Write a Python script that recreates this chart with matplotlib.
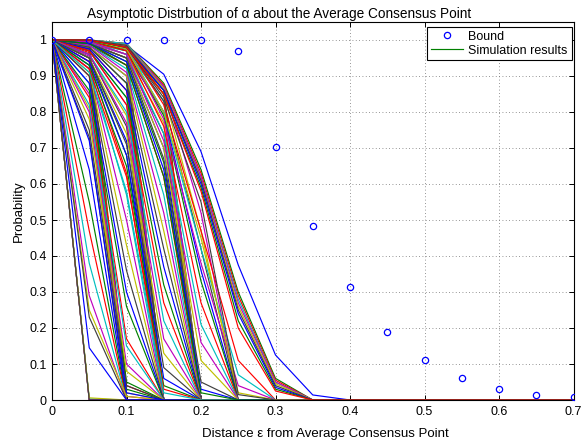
import matplotlib
matplotlib.use("Agg")
import matplotlib.pyplot as plt
from matplotlib.ticker import FuncFormatter

plt.rcParams['font.family'] = ['Liberation Sans', 'DejaVu Sans']

# x grid (distance epsilon)
eps = [0.0, 0.05, 0.1, 0.15, 0.2, 0.25, 0.3, 0.35, 0.4, 0.45, 0.5, 0.55, 0.6, 0.65, 0.7]

# theoretical bound
bound = [1.0, 1.0, 1.0, 1.0, 1.0, 0.969, 0.704, 0.483, 0.314, 0.19, 0.11, 0.06, 0.031, 0.015, 0.007]

# simulation curves (values at eps grid; omitted trailing values are 0)
sim_a = [[1, 0], [1, 0], [1, 0.003], [1, 0], [1, 0.006], [1, 0]]
sim_b = [[1, 0.995], [1, 0.99], [1, 0.99, 0.04], [1, 0.985], [1, 0.98], [1, 0.98, 0.02],
         [1, 0.975], [1, 0.97], [1, 0.97, 0.03], [1, 0.965], [1, 0.96], [1, 0.955, 0.01],
         [1, 0.95], [1, 0.94], [1, 0.93], [1, 0.92, 0.05], [1, 0.90], [1, 0.88], [1, 0.85],
         [1, 0.81], [1, 0.73], [1, 0.64], [1, 0.55], [1, 0.47], [1, 0.38], [1, 0.29],
         [1, 0.25, 0.01], [1, 0.23], [1, 0.145]]
sim_c = [[1, 0.995, 0.98], [1, 0.995, 0.975], [1, 0.99, 0.97], [1, 0.99, 0.96], [1, 0.99, 0.95],
         [1, 0.985, 0.93], [1, 0.98, 0.90], [1, 0.98, 0.88], [1, 0.975, 0.86], [1, 0.97, 0.84],
         [1, 0.97, 0.82], [1, 0.96, 0.79], [1, 0.96, 0.76], [1, 0.95, 0.72], [1, 0.95, 0.68],
         [1, 0.94, 0.63], [1, 0.93, 0.57], [1, 0.92, 0.50], [1, 0.91, 0.43], [1, 0.90, 0.36],
         [1, 0.88, 0.30], [1, 0.86, 0.26], [1, 0.84, 0.17], [1, 0.82, 0.15], [1, 0.80, 0.10],
         [1, 0.78, 0.08], [1, 0.75, 0.04], [1, 0.72, 0.02]]
sim_d = [[1, 1, 0.98, 0.86], [1, 1, 0.975, 0.85], [1, 0.995, 0.97, 0.83], [1, 0.995, 0.96, 0.80],
         [1, 0.995, 0.96, 0.77], [1, 0.99, 0.95, 0.74], [1, 0.99, 0.95, 0.70], [1, 0.99, 0.94, 0.66],
         [1, 0.99, 0.93, 0.62], [1, 0.985, 0.92, 0.57], [1, 0.985, 0.91, 0.52], [1, 0.98, 0.90, 0.47],
         [1, 0.98, 0.88, 0.42], [1, 0.975, 0.86, 0.37], [1, 0.97, 0.84, 0.32], [1, 0.97, 0.82, 0.27],
         [1, 0.96, 0.80, 0.22], [1, 0.96, 0.77, 0.17], [1, 0.95, 0.74, 0.13], [1, 0.95, 0.71, 0.09],
         [1, 0.94, 0.68, 0.06], [1, 0.93, 0.65, 0.04], [1, 0.92, 0.62, 0.03], [1, 0.91, 0.58, 0.02]]
sim_e = [[1, 1, 0.985, 0.87, 0.52], [1, 1, 0.98, 0.85, 0.47], [1, 1, 0.98, 0.83, 0.42],
         [1, 1, 0.975, 0.80, 0.36], [1, 1, 0.97, 0.79, 0.33], [1, 0.995, 0.97, 0.76, 0.27],
         [1, 0.995, 0.96, 0.74, 0.21], [1, 0.995, 0.96, 0.72, 0.16], [1, 0.99, 0.95, 0.70, 0.11],
         [1, 0.99, 0.95, 0.67, 0.05], [1, 0.99, 0.94, 0.64, 0.03], [1, 0.99, 0.93, 0.62, 0.02]]
sim_f = [[1, 1, 0.985, 0.82, 0.47, 0.11], [1, 1, 0.98, 0.80, 0.42, 0.07], [1, 1, 0.98, 0.78, 0.38, 0.04],
         [1, 1, 0.975, 0.80, 0.45, 0.02], [1, 1, 0.98, 0.84, 0.55, 0.015]]
sim_h = [[1, 1, 0.985, 0.905, 0.69, 0.375, 0.125, 0.014]]
sim_g = [[1, 1, 0.99, 0.88, 0.64, 0.30, 0.06], [1, 1, 0.99, 0.875, 0.63, 0.29, 0.055],
         [1, 1, 0.99, 0.87, 0.62, 0.28, 0.05], [1, 1, 0.985, 0.87, 0.62, 0.27, 0.05],
         [1, 1, 0.985, 0.865, 0.61, 0.26, 0.045], [1, 1, 0.985, 0.86, 0.61, 0.25, 0.04],
         [1, 1, 0.98, 0.86, 0.60, 0.24, 0.035], [1, 1, 0.98, 0.85, 0.59, 0.22, 0.03],
         [1, 1, 0.98, 0.85, 0.58, 0.20, 0.025]]

sims = sim_a + sim_b + sim_c + sim_d + sim_e + sim_f + sim_h + sim_g

matlab_colors = [(0, 0, 1), (0, 0.5, 0), (1, 0, 0), (0, 0.75, 0.75),
                 (0.75, 0, 0.75), (0.75, 0.75, 0), (0.25, 0.25, 0.25)]

fig = plt.figure(figsize=(5.82, 4.44), dpi=100)
ax = fig.add_axes([52 / 582, 44 / 444, 521.5 / 582, 378 / 444])
ax.set_prop_cycle(color=matlab_colors)

ax.plot(eps, bound, linestyle='none', marker='o', markersize=4.5,
        markerfacecolor='none', markeredgewidth=0.9, label='Bound', zorder=3)
for i, s in enumerate(sims):
    vals = list(s) + [0] * (len(eps) - len(s))
    ax.plot(eps, vals, linewidth=0.85,
            label='Simulation results' if i == 0 else '_nolegend_')

ax.set_xlim(0, 0.7)
ax.set_ylim(0, 1.05)
ax.set_xticks([0, 0.1, 0.2, 0.3, 0.4, 0.5, 0.6, 0.7])
ax.set_yticks([0, 0.1, 0.2, 0.3, 0.4, 0.5, 0.6, 0.7, 0.8, 0.9, 1.0])
fmt = FuncFormatter(lambda v, p: ('%g' % round(v, 2)))
ax.xaxis.set_major_formatter(fmt)
ax.yaxis.set_major_formatter(fmt)
ax.tick_params(direction='in', top=True, right=True, length=3.5, width=0.7,
               labelsize=9, pad=4)
ax.grid(True, linestyle=(0, (1, 3)), color='0.45', linewidth=0.6)
ax.set_axisbelow(True)
for sp in ax.spines.values():
    sp.set_linewidth(0.8)
    sp.set_color('black')

ax.set_title('Asymptotic Distrbution of α about the Average Consensus Point', fontsize=9.8,
             pad=3, x=0.435)
ax.set_xlabel('Distance ε from Average Consensus Point', fontsize=9.5, labelpad=7)
ax.xaxis.set_label_coords(0.525, -0.075)
ax.set_ylabel('Probability', fontsize=9.5, labelpad=3)

leg = ax.legend(loc='upper right', bbox_to_anchor=(1 - 2 / 521.5, 1 - 5 / 378),
                borderaxespad=0, fancybox=False, framealpha=1, edgecolor='black',
                fontsize=9, handlelength=2.6, handletextpad=0.4, borderpad=0.3,
                labelspacing=0.15)
leg.get_frame().set_linewidth(0.8)

fig.savefig('out.png', dpi=100)
